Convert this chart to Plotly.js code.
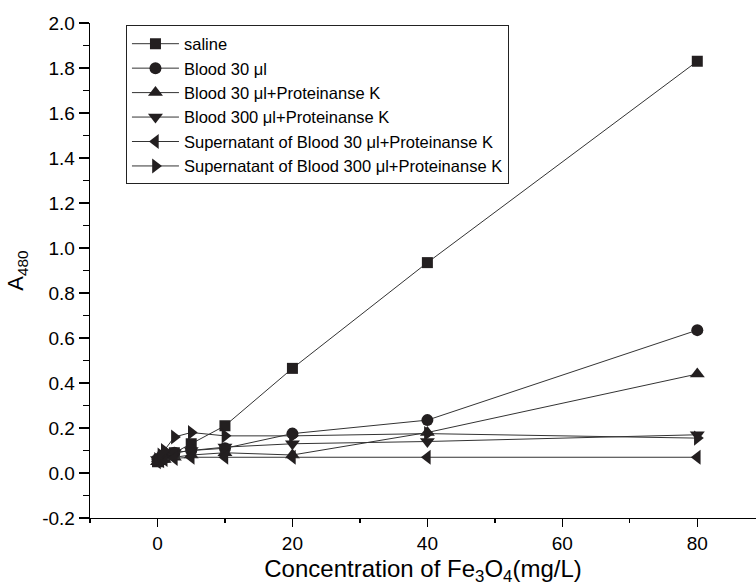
<!DOCTYPE html>
<html>
<head>
<meta charset="utf-8">
<script src="https://cdn.plot.ly/plotly-3.0.1.min.js"></script>
<style>html,body{margin:0;padding:0;background:#fff;}#chart{width:756px;height:586px;}</style>
</head>
<body>
<div id="chart"></div>
<script>
// Fe3O4 concentrations (mg/L)
const conc = [0, 0.5, 1, 2.5, 5, 10, 20, 40, 80];

const seriesNames = [
  'saline',
  'Blood 30 μl',
  'Blood 30 μl+Proteinanse K',
  'Blood 300 μl+Proteinanse K',
  'Supernatant of Blood 30 μl+Proteinanse K',
  'Supernatant of Blood 300 μl+Proteinanse K'
];

const saline        = [0.05, 0.06, 0.07, 0.09, 0.13, 0.21, 0.465, 0.935, 1.83];
const blood30       = [0.06, 0.07, 0.08, 0.09, 0.10, 0.11, 0.175, 0.235, 0.635];
const blood30PK     = [0.05, 0.06, 0.06, 0.07, 0.08, 0.09, 0.08, 0.18, 0.44];
const blood300PK    = [0.06, 0.07, 0.08, 0.09, 0.10, 0.115, 0.13, 0.14, 0.17];
const super30PK     = [0.05, 0.055, 0.06, 0.065, 0.07, 0.07, 0.07, 0.07, 0.07];
const super300PK    = [0.06, 0.08, 0.10, 0.16, 0.18, 0.165, 0.165, 0.175, 0.155];

const symbols = ['square', 'circle', 'triangle-up', 'triangle-down', 'triangle-left', 'triangle-right'];
const markerSizes = [11, 12, 13, 13, 13, 13];
const allValues = [saline, blood30, blood30PK, blood300PK, super30PK, super300PK];

const yTickVals = [-0.2, 0.0, 0.2, 0.4, 0.6, 0.8, 1.0, 1.2, 1.4, 1.6, 1.8, 2.0];
const yTickText = ['-0.2', '0.0', '0.2', '0.4', '0.6', '0.8', '1.0', '1.2', '1.4', '1.6', '1.8', '2.0'];
const xTickVals = [0, 20, 40, 60, 80];
const xTickText = ['0', '20', '40', '60', '80'];

const ink = '#231f20';
const traces = allValues.map((vals, i) => ({
  x: conc,
  y: vals,
  name: seriesNames[i],
  type: 'scatter',
  mode: 'lines+markers',
  line: {color: '#333333', width: 1},
  marker: {symbol: symbols[i], size: markerSizes[i], color: ink, line: {width: 0}}
}));

const font = 'Liberation Sans, Arial, Helvetica, sans-serif';

const layout = {
  width: 756,
  height: 586,
  margin: {l: 90, r: 0, t: 23, b: 68},
  paper_bgcolor: '#ffffff',
  plot_bgcolor: '#ffffff',
  font: {family: font, color: '#000000', size: 18},
  showlegend: true,
  legend: {
    x: 0.054, y: 0.995, xanchor: 'left', yanchor: 'top',
    bordercolor: '#222222', borderwidth: 1,
    bgcolor: '#ffffff',
    itemwidth: 47,
    font: {family: font, size: 16.5, color: '#000000'},
    tracegroupgap: 0
  },
  xaxis: {
    range: [-10, 88.7],
    showgrid: false, zeroline: false,
    showline: true, linecolor: '#000000', linewidth: 1.3,
    ticks: 'outside', ticklen: 8, tickwidth: 1.3, tickcolor: '#000000',
    tickmode: 'array', tickvals: xTickVals, ticktext: xTickText,
    tickfont: {family: font, size: 19, color: '#000000'},
    minor: {dtick: 10, tick0: 0, ticks: 'outside', ticklen: 4, tickwidth: 1.3, tickcolor: '#000000', showgrid: false},
    title: {text: 'Concentration of Fe<sub>3</sub>O<sub>4</sub>(mg/L)', font: {family: font, size: 24, color: '#000000'}, standoff: 8}
  },
  yaxis: {
    range: [-0.2, 2.0],
    showgrid: false, zeroline: false,
    showline: true, linecolor: '#000000', linewidth: 1.3,
    ticks: 'outside', ticklen: 10, tickwidth: 1.3, tickcolor: '#000000',
    tickmode: 'array', tickvals: yTickVals, ticktext: yTickText,
    tickfont: {family: font, size: 19, color: '#000000'},
    minor: {dtick: 0.1, tick0: 0, ticks: 'outside', ticklen: 6, tickwidth: 1.3, tickcolor: '#000000', showgrid: false},
    title: {text: 'A<sub>480</sub>', font: {family: font, size: 22, color: '#000000'}, standoff: 12}
  }
};

Plotly.newPlot('chart', traces, layout, {displayModeBar: false, staticPlot: true});
</script>
</body>
</html>
